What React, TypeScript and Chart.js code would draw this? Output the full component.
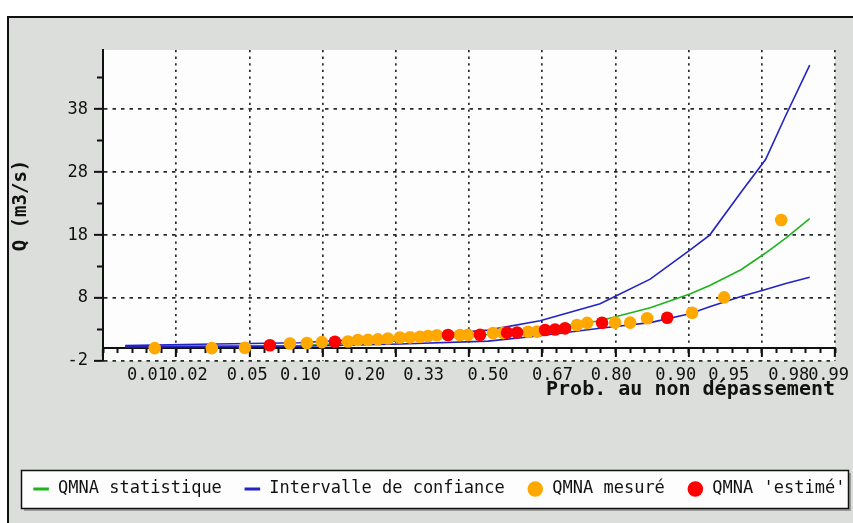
import React, { useEffect, useRef } from "react";
import { Chart, Scale, registerables } from "chart.js";

// ---------- data ----------
const X_TICK_PROBS = [0.01, 0.02, 0.05, 0.1, 0.2, 0.33, 0.5, 0.67, 0.8, 0.9, 0.95, 0.98, 0.99];
const X_TICK_LABELS = ["0.01", "0.02", "0.05", "0.10", "0.20", "0.33", "0.50", "0.67", "0.80", "0.90", "0.95", "0.98", "0.99"];
const Y_TICKS = [-2, 8, 18, 28, 38];
const Y_MINOR_TICKS = [3, 13, 23, 33, 43];
const Y_MIN = -2;
const Y_MAX = 47.4;
// x axis range expressed in standard-normal quantiles
const Z_MIN = -2.63;
const Z_MAX = 2.37;
const Z_GRID_STEP = 0.5;
const Z_MINOR_STEP = 0.1;

const P_CURVE = [0.0066, 0.0245, 0.099, 0.274, 0.5, 0.639, 0.778, 0.866, 0.916, 0.935, 0.958, 0.971, 0.979, 0.986];
const Q_STAT = [0.35, 0.38, 0.45, 1.2, 2.2, 3.0, 4.4, 6.45, 8.65, 10.0, 12.5, 15.15, 17.5, 20.6];
const Q_UPPER = [0.45, 0.65, 0.9, 1.8, 2.9, 4.4, 7.1, 11.0, 15.6, 18.0, 24.8, 30.0, 37.0, 45.0];
const Q_LOWER = [0.25, 0.28, 0.35, 0.7, 1.15, 2.0, 3.2, 4.1, 5.5, 6.6, 8.25, 9.35, 10.3, 11.3];

const P_MEASURED = [0.0114, 0.0296, 0.0484, 0.088, 0.108, 0.1282, 0.1693, 0.187, 0.2061, 0.226, 0.247, 0.2736, 0.297, 0.321, 0.3409, 0.3635, 0.424, 0.4456, 0.5136, 0.541, 0.6077, 0.631, 0.7284, 0.7508, 0.8073, 0.8342, 0.8615, 0.9183, 0.9466, 0.9774];
const Q_MEASURED = [0.05, 0.05, 0.1, 0.78, 0.86, 1.0, 1.1, 1.33, 1.35, 1.44, 1.57, 1.73, 1.76, 1.86, 1.97, 2.08, 2.14, 2.15, 2.45, 2.47, 2.65, 2.67, 3.71, 4.05, 4.09, 4.1, 4.78, 5.67, 8.11, 20.4];

const P_ESTIMATED = [0.0681, 0.1478, 0.3923, 0.478, 0.5517, 0.5786, 0.6516, 0.6765, 0.7006, 0.782, 0.8895];
const Q_ESTIMATED = [0.5, 1.05, 2.13, 2.17, 2.5, 2.52, 2.92, 3.0, 3.19, 4.08, 4.87];

// ---------- normal probability helpers ----------
function normCdf(z: number): number {
  const t = 1 / (1 + 0.2316419 * Math.abs(z));
  const d = 0.3989422804014327 * Math.exp((-z * z) / 2);
  const p = d * t * (0.31938153 + t * (-0.356563782 + t * (1.781477937 + t * (-1.821255978 + t * 1.330274429))));
  return z > 0 ? 1 - p : p;
}
function probit(p: number): number {
  const a = [-39.69683028665376, 220.9460984245205, -275.9285104469687, 138.357751867269, -30.66479806614716, 2.506628277459239];
  const b = [-54.47609879822406, 161.5858368580409, -155.6989798598866, 66.80131188771972, -13.28068155288572];
  const c = [-0.007784894002430293, -0.3223964580411365, -2.400758277161838, -2.549732539343734, 4.374664141464968, 2.938163982698783];
  const d = [0.007784695709041462, 0.3224671290700398, 2.445134137142996, 3.754408661907416];
  const plow = 0.02425;
  if (p < plow) {
    const q = Math.sqrt(-2 * Math.log(p));
    return (((((c[0] * q + c[1]) * q + c[2]) * q + c[3]) * q + c[4]) * q + c[5]) / ((((d[0] * q + d[1]) * q + d[2]) * q + d[3]) * q + 1);
  }
  if (p <= 1 - plow) {
    const q = p - 0.5;
    const r = q * q;
    return ((((((a[0] * r + a[1]) * r + a[2]) * r + a[3]) * r + a[4]) * r + a[5]) * q) / (((((b[0] * r + b[1]) * r + b[2]) * r + b[3]) * r + b[4]) * r + 1);
  }
  const q = Math.sqrt(-2 * Math.log(1 - p));
  return -(((((c[0] * q + c[1]) * q + c[2]) * q + c[3]) * q + c[4]) * q + c[5]) / ((((d[0] * q + d[1]) * q + d[2]) * q + d[3]) * q + 1);
}

// Normal-probability ("probit") scale
class ProbitScale extends Scale {
  static id = "probit";
  static defaults = {};
  _zStart = 0;
  _zEnd = 1;
  determineDataLimits() {
    this.min = (this.options as any).min;
    this.max = (this.options as any).max;
  }
  buildTicks() {
    return [];
  }
  getLabelForValue(v: number) {
    return String(v);
  }
  configure() {
    super.configure();
    this._zStart = probit(this.min);
    this._zEnd = probit(this.max);
  }
  getPixelForValue(v: number) {
    return this.getPixelForDecimal((probit(v) - this._zStart) / (this._zEnd - this._zStart));
  }
  getValueForPixel(px: number) {
    return normCdf(this._zStart + this.getDecimalForPixel(px) * (this._zEnd - this._zStart));
  }
}

Chart.register(...registerables, ProbitScale as any);

const FONT = "'DejaVu Sans Mono', monospace";
const INK = "#111";
const GREEN = "#1fb41f";
const BLUE = "#2323c3";
const ORANGE = "#ffa800";
const RED = "#ff0000";

function zTicks(step: number) {
  const out: { value: number }[] = [];
  const n = Math.round((Z_MAX - Z_MIN) / step);
  for (let k = 0; k <= n; k++) out.push({ value: Z_MIN + k * step });
  return out;
}

const panelPlugin = {
  id: "panel",
  beforeDraw(chart: any) {
    const { ctx, chartArea: a } = chart;
    ctx.save();
    ctx.fillStyle = "#fcfdfc";
    ctx.fillRect(a.left, a.top, a.right - a.left, a.bottom - a.top);
    const lg = chart.legend;
    if (lg && lg.legendHitBoxes && lg.legendHitBoxes.length) {
      const hb = lg.legendHitBoxes[0];
      const cy = hb.top + hb.height / 2;
      const x = 12;
      const w = 827;
      const h = 38;
      const y = Math.round(cy - h / 2);
      ctx.fillStyle = "#9c9e9c";
      ctx.fillRect(x + 3, y + 3, w, h);
      ctx.fillStyle = "#fcfdfc";
      ctx.fillRect(x, y, w, h);
      ctx.strokeStyle = INK;
      ctx.lineWidth = 1.5;
      ctx.strokeRect(x + 0.5, y + 0.5, w, h);
    }
    ctx.restore();
  },
};

function pts(xs: number[], ys: number[]) {
  return xs.map((x, i) => ({ x, y: ys[i] }));
}

export default function App() {
  const ref = useRef<HTMLCanvasElement>(null);
  useEffect(() => {
    Chart.defaults.font.family = FONT;
    Chart.defaults.font.size = 17;
    Chart.defaults.color = INK;
    const lineDs = (label: string, ys: number[], color: string, order: number) => ({
      label,
      data: pts(P_CURVE, ys),
      showLine: true,
      borderColor: color,
      backgroundColor: color,
      borderWidth: 1.6,
      pointRadius: 0,
      tension: 0,
      order,
    });
    const chart = new Chart(ref.current as HTMLCanvasElement, {
      type: "scatter",
      data: {
        datasets: [
          lineDs("QMNA statistique", Q_STAT, GREEN, 3),
          lineDs("Intervalle de confiance", Q_UPPER, BLUE, 2),
          lineDs("Intervalle de confiance (bas)", Q_LOWER, BLUE, 2),
          {
            label: "QMNA mesuré",
            data: pts(P_MEASURED, Q_MEASURED),
            pointRadius: 6.3,
            pointStyle: "circle",
            backgroundColor: ORANGE,
            borderColor: ORANGE,
            pointBorderWidth: 0,
            order: 1,
          },
          {
            label: "QMNA 'estimé'",
            data: pts(P_ESTIMATED, Q_ESTIMATED),
            pointRadius: 6.3,
            pointStyle: "circle",
            backgroundColor: RED,
            borderColor: RED,
            pointBorderWidth: 0,
            order: 0,
          },
        ],
      } as any,
      options: {
        responsive: false,
        animation: false,
        devicePixelRatio: 1,
        events: [],
        layout: { padding: { left: 0, top: 32, right: 0, bottom: 15.5 } },
        plugins: {
          tooltip: { enabled: false },
          legend: {
            position: "bottom",
            align: "center",
            labels: {
              font: { family: FONT, size: 17 },
              color: INK,
              usePointStyle: true,
              boxHeight: 11,
              padding: 22,
              sort: (a: any, b: any) => a.datasetIndex - b.datasetIndex,
              generateLabels: (ch: any) => {
                const base = (Chart.defaults.plugins.legend.labels as any).generateLabels(ch);
                return base
                  .filter((it: any) => it.datasetIndex !== 2)
                  .map((it: any) => {
                    const ds = ch.data.datasets[it.datasetIndex];
                    if (ds.showLine) {
                      it.pointStyle = "line";
                      it.lineWidth = 3;
                      it.strokeStyle = ds.borderColor;
                    } else {
                      it.pointStyle = "circle";
                      it.lineWidth = 0;
                      it.fillStyle = ds.backgroundColor;
                    }
                    return it;
                  });
              },
            },
          },
        },
        scales: {
          x: {
            type: "probit" as any,
            position: "bottom",
            min: normCdf(Z_MIN),
            max: normCdf(Z_MAX),
            afterBuildTicks: (s: any) => {
              s.ticks = X_TICK_PROBS.map((v) => ({ value: v }));
            },
            afterFit: (s: any) => {
              s.height = 97.5;
            },
            grid: { display: false, drawTicks: false },
            border: { display: false },
            ticks: {
              autoSkip: false,
              maxRotation: 0,
              minRotation: 0,
              padding: 4,
              color: INK,
              font: { family: FONT, size: 17 },
              callback: (_v: any, i: number) => X_TICK_LABELS[i],
            },
            title: {
              display: true,
              text: "Prob. au non dépassement",
              align: "end",
              color: INK,
              font: { family: FONT, size: 20, weight: "bold" },
              padding: { top: 0, bottom: 56.5 },
            },
          } as any,
          xMajor: {
            type: "linear",
            axis: "x",
            position: { y: 0 },
            min: Z_MIN,
            max: Z_MAX,
            afterBuildTicks: (s: any) => {
              s.ticks = zTicks(Z_GRID_STEP);
            },
            ticks: { display: false },
            grid: {
              display: true,
              drawOnChartArea: true,
              drawTicks: true,
              tickLength: 8,
              color: "#2a2a2a",
              lineWidth: 1.7,
              tickColor: INK,
              tickWidth: 2,
              tickBorderDash: [],
            },
            border: { display: true, color: INK, width: 2, dash: [2.3, 4.3] },
          } as any,
          xMinor: {
            type: "linear",
            axis: "x",
            position: { y: 0 },
            min: Z_MIN,
            max: Z_MAX,
            afterBuildTicks: (s: any) => {
              s.ticks = zTicks(Z_MINOR_STEP);
            },
            ticks: { display: false },
            grid: {
              display: true,
              drawOnChartArea: false,
              drawTicks: true,
              tickLength: 5,
              tickColor: INK,
              tickWidth: 2,
            },
            border: { display: false },
          } as any,
          y: {
            type: "linear",
            position: "left",
            min: Y_MIN,
            max: Y_MAX,
            afterBuildTicks: (s: any) => {
              s.ticks = Y_TICKS.map((v) => ({ value: v }));
            },
            afterFit: (s: any) => {
              s.width = 94;
            },
            ticks: {
              padding: 6,
              color: INK,
              font: { family: FONT, size: 17 },
              callback: (v: any) => String(v),
            },
            grid: {
              color: "#2a2a2a",
              lineWidth: 1.7,
              tickLength: 9,
              tickColor: INK,
              tickWidth: 2,
              tickBorderDash: [],
            },
            border: { display: true, color: INK, width: 2, dash: [3.5, 5] },
            title: {
              display: true,
              text: "Q (m3/s)",
              color: INK,
              font: { family: FONT, size: 19, weight: "bold" },
              padding: { top: 0.6, bottom: 0 },
            },
          } as any,
          yMinor: {
            type: "linear",
            axis: "y",
            position: { xMajor: Z_MIN },
            min: Y_MIN,
            max: Y_MAX,
            afterBuildTicks: (s: any) => {
              s.ticks = Y_MINOR_TICKS.map((v) => ({ value: v }));
            },
            ticks: { display: false },
            grid: {
              display: true,
              drawOnChartArea: false,
              drawTicks: true,
              tickLength: 6,
              tickColor: INK,
              tickWidth: 2,
            },
            border: { display: false },
          } as any,
          yRight: {
            type: "linear",
            axis: "y",
            position: "right",
            min: Y_MIN,
            max: Y_MAX,
            afterFit: (s: any) => {
              s.width = 34;
            },
            ticks: { display: false },
            grid: { display: false, drawTicks: false },
            border: { display: false },
          } as any,
        },
      },
      plugins: [panelPlugin],
    } as any);
    return () => chart.destroy();
  }, []);

  return (
    <div style={{ position: "absolute", left: 0, top: 0, width: 853, height: 523, background: "#fff", overflow: "hidden" }}>
      <div
        style={{
          position: "absolute",
          left: 7,
          top: 16,
          width: 846,
          height: 507,
          background: "#dcdedc",
          borderLeft: "2px solid #111",
          borderTop: "2px solid #111",
          boxSizing: "border-box",
        }}
      >
        <canvas ref={ref} width={860} height={505} style={{ display: "block", width: 860, height: 505 }} />
      </div>
    </div>
  );
}
